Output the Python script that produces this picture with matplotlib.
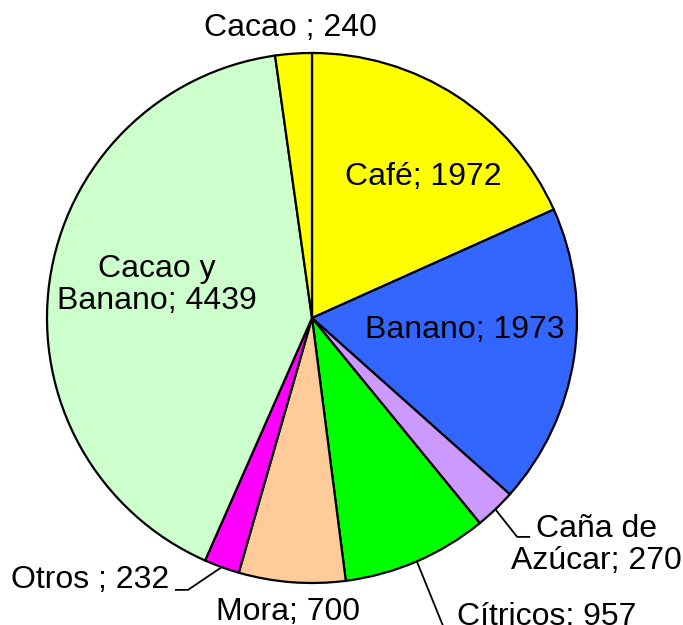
import numpy as np
import matplotlib.pyplot as plt

plt.rcParams['font.family'] = ['Liberation Sans', 'DejaVu Sans']

labels = ['Café; 1972', 'Banano; 1973', 'Caña de\nAzúcar; 270', 'Cítricos; 957',
          'Mora; 700', 'Otros ; 232', 'Cacao y\nBanano; 4439', 'Cacao ; 240']
values = [1972, 1973, 270, 957, 700, 232, 4439, 240]
colors = ['#FFFF00', '#3366FF', '#CC99FF', '#00FF00',
          '#FFCC99', '#FF00FF', '#CCFFCC', '#FFFF00']

# label placement (data units, pie radius = 1)
label_pos = [(0.419, 0.532), (0.577, -0.045), (1.072, -0.857), (0.887, -1.13),
             (-0.091, -1.108), (-0.838, -0.989), (-0.585, 0.125), (-0.083, 1.094)]
# leader lines: index -> list of points after the wedge edge point
leaders = {2: [(0.774, -0.826), (0.823, -0.826)],
           3: [(0.51, -1.2)],
           5: [(-0.468, -1.026), (-0.517, -1.026)]}

fig = plt.figure(figsize=(6.83, 6.25), dpi=100)
ax = fig.add_axes([0, 0, 1, 1])
wedges, _ = ax.pie(values, colors=colors, startangle=90, counterclock=False,
                   radius=1, wedgeprops=dict(edgecolor='black', linewidth=1.6))

for i, w in enumerate(wedges):
    x, y = label_pos[i]
    ax.text(x, y, labels[i], ha='center', va='center', fontsize=23,
            linespacing=1.1, clip_on=False)
    if i in leaders:
        mid = np.deg2rad((w.theta1 + w.theta2) / 2)
        pts = [(np.cos(mid), np.sin(mid))] + leaders[i]
        xs, ys = zip(*pts)
        ax.plot(xs, ys, color='black', linewidth=1.3, solid_capstyle='butt')

ax.set_xlim(-312 / 265, (683 - 312) / 265)
ax.set_ylim((318 - 625) / 265, 318 / 265)
ax.set_aspect('equal')
ax.axis('off')

fig.savefig('out.png', dpi=100)
